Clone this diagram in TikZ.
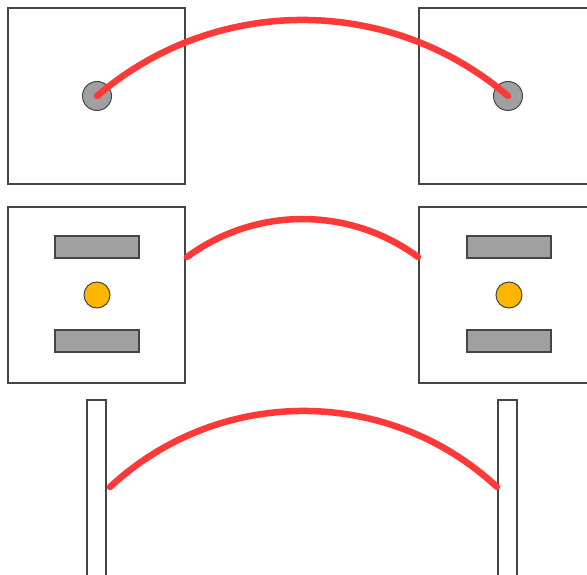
\documentclass[tikz,border=0pt]{standalone}
\usetikzlibrary{calc}
\definecolor{arcred}{HTML}{FF3838}
\definecolor{boxline}{HTML}{454545}
\definecolor{grayfill}{HTML}{A0A0A0}
\definecolor{goldfill}{HTML}{FFB600}
\tikzset{
  panel/.style={draw=boxline, line width=1.2pt, fill=white, rectangle, inner sep=0pt, minimum width=177pt, minimum height=176pt},
  slab/.style={draw=boxline, line width=1.2pt, fill=grayfill, rectangle, inner sep=0pt, minimum width=84pt, minimum height=22pt},
  pillar/.style={draw=boxline, line width=1.2pt, fill=white, rectangle, inner sep=0pt, minimum width=19pt, minimum height=200pt},
  graydot/.style={draw=boxline, line width=1pt, fill=grayfill, circle, inner sep=0pt, minimum size=29pt},
  golddot/.style={draw=boxline, line width=1pt, fill=goldfill, circle, inner sep=0pt, minimum size=26pt},
  redarc/.style={draw=arcred, line width=6.5pt, line cap=round}
}
\begin{document}
\begin{tikzpicture}[x=1pt, y=-1pt]
\clip (0,0) rectangle (587,575);
\fill[white] (0,0) rectangle (587,575);
% top row
\node[panel] (tL) at (96.5,96) {};
\node[panel] (tR) at (507.5,96) {};
\node[graydot] (c1) at (97,96) {};
\node[graydot] (c2) at (508,96) {};
% middle row
\node[panel] (mL) at (96.5,295) {};
\node[panel] (mR) at (507.5,295) {};
\node[slab] (sL1) at (97,247) {};
\node[slab] (sL2) at (97,341) {};
\node[slab] (sR1) at (509,247) {};
\node[slab] (sR2) at (509,341) {};
\node[golddot] (gL) at (97,295) {};
\node[golddot] (gR) at (509,295) {};
% bottom row
\node[pillar] (pL) at (96.5,500) {};
\node[pillar] (pR) at (507.5,500) {};
% connector ends
\coordinate (m1) at (187,257);
\coordinate (m2) at (418,257);
\coordinate (b1) at (110,487);
\coordinate (b2) at (497,487);
% arcs
\draw[redarc] (c1.center) .. controls ($(c1.center)+(118.3,-101.4)$) and ($(c2.center)+(-118.3,-101.4)$) .. (c2.center);
\draw[redarc] (m1) .. controls ($(m1)+(68.6,-50.6)$) and ($(m2)+(-68.6,-50.6)$) .. (m2);
\draw[redarc] (b1) .. controls ($(b1)+(109.1,-101.4)$) and ($(b2)+(-109.1,-101.4)$) .. (b2);
\end{tikzpicture}
\end{document}
